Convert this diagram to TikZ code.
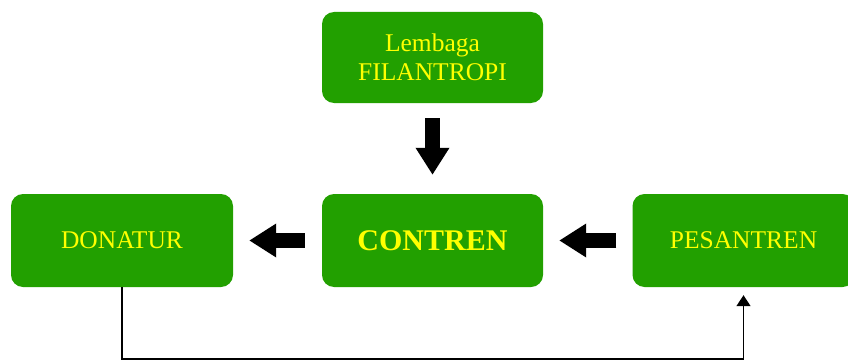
\documentclass[tikz,border=0pt]{standalone}
\usepackage{fontspec}
\setmainfont{Liberation Serif}
\usetikzlibrary{arrows.meta}
\definecolor{boxgreen}{RGB}{34,160,0}
\definecolor{txtyellow}{RGB}{255,255,0}
\tikzset{
  greenbox/.style={rectangle, rounded corners=12pt, fill=boxgreen, draw=none,
    text=txtyellow, inner sep=0pt, align=center, font=\fontsize{25.5}{29}\selectfont},
  blockarrow/.style={line width=15pt, -{Triangle[width=32pt,length=27pt]}},
  thinconn/.style={line width=1.5pt, -{Triangle[width=14pt,length=11pt]}}
}
\begin{document}
\begin{tikzpicture}[x=1pt,y=-1pt]
\useasboundingbox (0,0) rectangle (848,361);
\node[greenbox, minimum width=221pt, minimum height=91pt] (top) at (432.5,57.5) {Lembaga\\FILANTROPI};
\node[greenbox, minimum width=222pt, minimum height=93pt] (don) at (122,240.5) {DONATUR};
\node[greenbox, minimum width=221pt, minimum height=93pt, font=\fontsize{30}{34}\selectfont\bfseries] (con) at (432.5,240.5) {CONTREN};
\node[greenbox, minimum width=222pt, minimum height=93pt] (pes) at (743.5,240.5) {PESANTREN};
\coordinate (low) at (0,359);
\draw[blockarrow, shorten <=15pt, shorten >=19pt] (top.south) -- (con.north);
\draw[blockarrow, shorten <=17pt, shorten >=16pt] (con.west) -- (don.east);
\draw[blockarrow, shorten <=16pt, shorten >=16pt] (pes.west) -- (con.east);
\draw[thinconn, shorten >=8pt] (don.south) -- (don.south |- low) -| (pes.south);
\end{tikzpicture}
\end{document}
